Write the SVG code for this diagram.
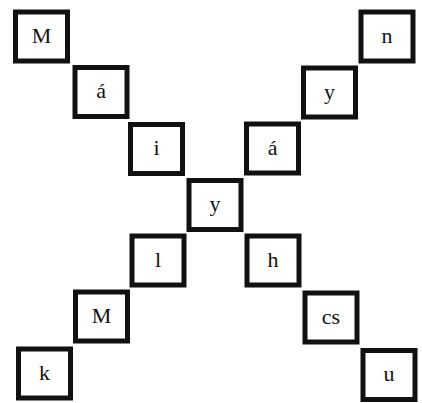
<svg xmlns="http://www.w3.org/2000/svg" width="422" height="403" viewBox="0 0 422 403">
<style>
.box{fill:#fff;stroke:#111;stroke-width:5}
.lbl{font-family:"Liberation Serif","DejaVu Serif",serif;font-size:22px;fill:#111;text-anchor:middle}
</style>
<rect width="422" height="403" fill="#fff"/>
<g id="connectors"></g>
<g id="n1" transform="translate(41.5,36.5)"><rect class="box" x="-26" y="-24.5" width="52" height="49"/><text class="lbl" y="6">M</text></g>
<g id="n2" transform="translate(101,92)"><rect class="box" x="-26" y="-24.5" width="52" height="49"/><text class="lbl" y="6">á</text></g>
<g id="n3" transform="translate(156.5,149)"><rect class="box" x="-26" y="-24.5" width="52" height="49"/><text class="lbl" y="6">i</text></g>
<g id="n4" transform="translate(215,205)"><rect class="box" x="-26" y="-24.5" width="52" height="49"/><text class="lbl" y="6">y</text></g>
<g id="n5" transform="translate(158,260.5)"><rect class="box" x="-26" y="-24.5" width="52" height="49"/><text class="lbl" y="6">l</text></g>
<g id="n6" transform="translate(101.5,316.5)"><rect class="box" x="-26" y="-24.5" width="52" height="49"/><text class="lbl" y="6">M</text></g>
<g id="n7" transform="translate(44.5,373.5)"><rect class="box" x="-26" y="-24.5" width="52" height="49"/><text class="lbl" y="6">k</text></g>
<g id="n8" transform="translate(387,36.5)"><rect class="box" x="-26" y="-24.5" width="52" height="49"/><text class="lbl" y="6">n</text></g>
<g id="n9" transform="translate(329.5,92.5)"><rect class="box" x="-26" y="-24.5" width="52" height="49"/><text class="lbl" y="6">y</text></g>
<g id="n10" transform="translate(272.5,148.5)"><rect class="box" x="-26" y="-24.5" width="52" height="49"/><text class="lbl" y="6">á</text></g>
<g id="n11" transform="translate(273,260.5)"><rect class="box" x="-26" y="-24.5" width="52" height="49"/><text class="lbl" y="6">h</text></g>
<g id="n12" transform="translate(331,317.5)"><rect class="box" x="-26" y="-24.5" width="52" height="49"/><text class="lbl" y="6">cs</text></g>
<g id="n13" transform="translate(389,375)"><rect class="box" x="-26" y="-24.5" width="52" height="49"/><text class="lbl" y="6">u</text></g>
</svg>
